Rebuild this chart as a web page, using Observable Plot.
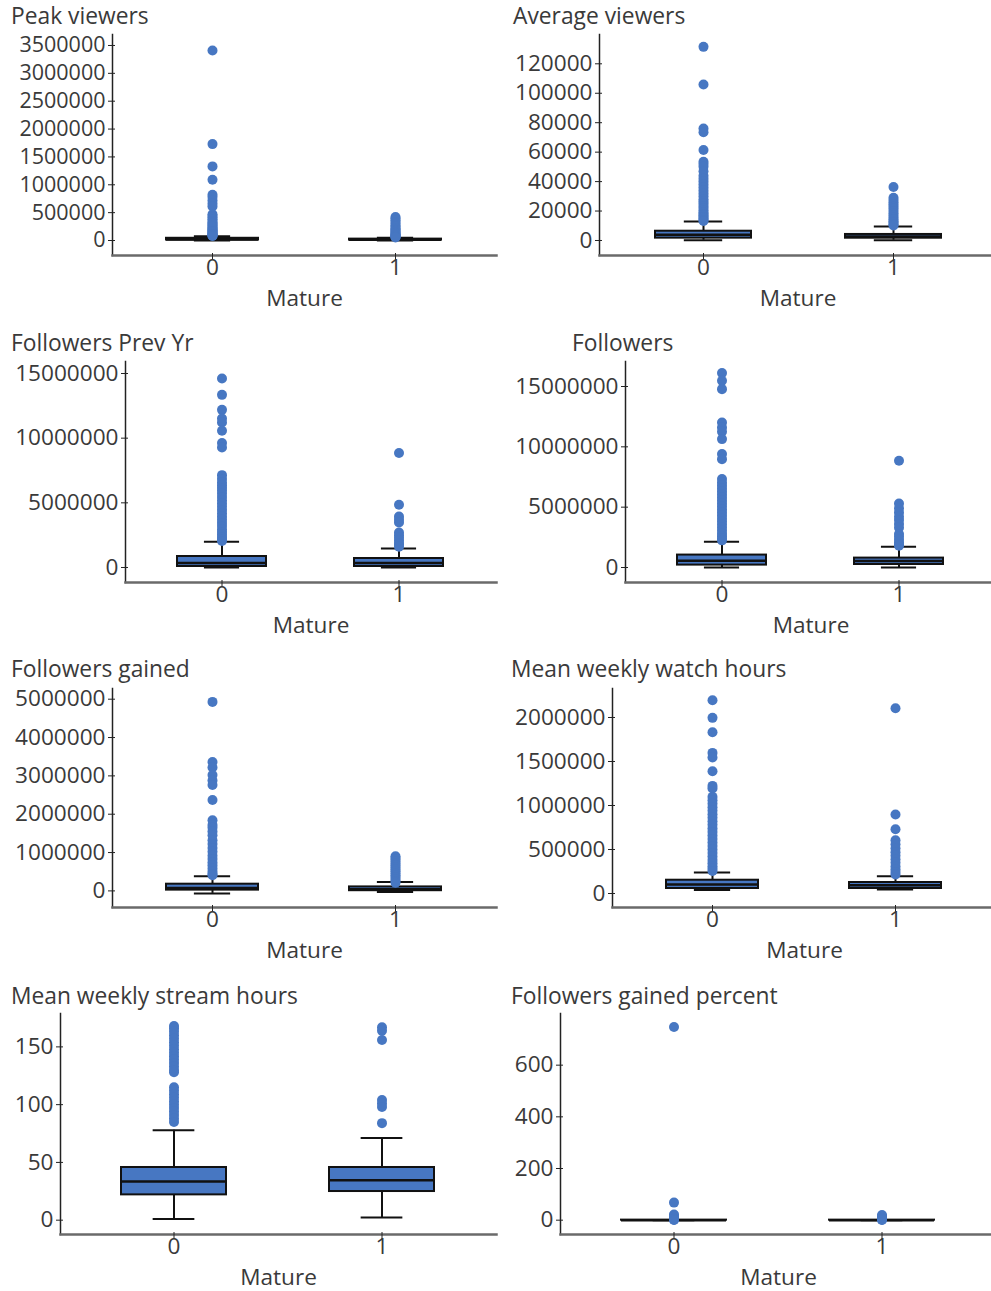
<!DOCTYPE html>
<html>
<head>
<meta charset="utf-8">
<script src="https://cdn.jsdelivr.net/npm/d3@7"></script>
<script src="https://cdn.jsdelivr.net/npm/@observablehq/plot@0.6"></script>
<style>
  body { margin: 0; background: #fff; overflow: hidden; }
  #grid { position: relative; width: 991px; height: 1291px; overflow: hidden; font-family: "Open Sans", sans-serif; color: #3a3a3a; }
  .title { position: absolute; font-size: 22.8px; line-height: 22px; white-space: nowrap; color: #3a3a3a; }
</style>
</head>
<body>
<div id="grid"></div>
<script>
// Mature flag categories on the x axis
const groups = ["0", "1"];
const xLabel = "Mature";

// Box statistics per group: [lower whisker, Q1, median, Q3, upper whisker]
const peakViewersBox = [[500, 9000, 17000, 40000, 78000], [800, 7000, 12000, 25000, 50000]];
const peakViewersOut0 = [3410000, 1730000, 1330000, 1090000, 820000, 780000, 720000, 660000, 610000, 470000, 440000, 410000, 380000, 350000, 320000, 300000, 280000, 260000, 240000, 220000, 200000, 185000, 170000, 155000, 140000, 128000, 116000, 105000, 96000, 88000, 82000];
const peakViewersOut1 = [420000, 395000, 365000, 330000, 300000, 270000, 245000, 220000, 200000, 180000, 160000, 140000, 125000, 110000, 98000, 88000, 78000, 70000, 62000, 55000];
const peakViewersTicks = [0, 500000, 1000000, 1500000, 2000000, 2500000, 3000000, 3500000];

const avgViewersBox = [[200, 1600, 3900, 6300, 12900], [200, 1550, 2700, 4100, 9500]];
const avgViewersOut0 = [131500, 106000, 76000, 73500, 61500, 53500, 52000, 50000, 47000, 44000, 42000, 40000, 38000, 36000, 34000, 32000, 30000, 28000, 26500, 25000, 23500, 22000, 20500, 19000, 18000, 17000, 16000, 15000, 14000, 13300];
const avgViewersOut1 = [36300, 29000, 27500, 26000, 24500, 23000, 21500, 20000, 18500, 17000, 15500, 14200, 13000, 12000, 11000, 10200];
const avgViewersTicks = [0, 20000, 40000, 60000, 80000, 100000, 120000];

const followersPrevBox = [[3000, 77000, 340000, 850000, 1990000], [3000, 77000, 340000, 696000, 1470000]];
const followersPrevOut0 = [14610000, 13350000, 12190000, 11520000, 11210000, 10570000, 9620000, 9280000, 7140000, 6850000, 6570000, 6350000, 6150000, 5930000, 5700000, 5450000, 5200000, 4950000, 4700000, 4450000, 4200000, 3950000, 3700000, 3450000, 3200000, 2950000, 2750000, 2550000, 2350000, 2200000, 2050000];
const followersPrevOut1 = [8850000, 4850000, 3940000, 3700000, 3480000, 2700000, 2500000, 2300000, 2100000, 1900000, 1750000, 1600000];
const followersPrevTicks = [0, 5000000, 10000000, 15000000];

const followersBox = [[5000, 199000, 555000, 1030000, 2130000], [5000, 249000, 530000, 779000, 1720000]];
const followersOut0 = [16110000, 15470000, 14780000, 12020000, 11600000, 11250000, 10640000, 9400000, 8980000, 7330000, 7050000, 6800000, 6550000, 6300000, 6050000, 5800000, 5550000, 5300000, 5050000, 4800000, 4550000, 4300000, 4050000, 3800000, 3550000, 3300000, 3050000, 2800000, 2600000, 2400000, 2250000];
const followersOut1 = [8840000, 5300000, 4900000, 4560000, 4200000, 3930000, 3600000, 3300000, 2770000, 2550000, 2300000, 2100000, 1900000, 1800000];
const followersTicks = [0, 5000000, 10000000, 15000000];

const gainedBox = [[-65000, 20000, 75000, 175000, 384000], [-26000, 5000, 40000, 104000, 235000]];
const gainedOut0 = [4930000, 3360000, 3220000, 3020000, 2880000, 2760000, 2370000, 1840000, 1720000, 1650000, 1550000, 1450000, 1320000, 1220000, 1120000, 1020000, 920000, 830000, 740000, 660000, 580000, 500000, 440000, 411000];
const gainedOut1 = [905000, 860000, 810000, 760000, 710000, 660000, 610000, 560000, 510000, 460000, 410000, 360000, 310000, 260000, 215000];
const gainedTicks = [0, 1000000, 2000000, 3000000, 4000000, 5000000];

const watchBox = [[40000, 57000, 102000, 151000, 239000], [45000, 57000, 94000, 125000, 197000]];
const watchOut0 = [2197000, 1996000, 1833000, 1598000, 1545000, 1390000, 1223000, 1193000, 1098000, 1060000, 1020000, 980000, 940000, 900000, 860000, 820000, 780000, 740000, 700000, 660000, 620000, 580000, 540000, 500000, 460000, 420000, 380000, 345000, 310000, 280000, 255000];
const watchOut1 = [2106000, 898000, 731000, 606000, 560000, 515000, 470000, 430000, 390000, 350000, 310000, 275000, 245000, 215000];
const watchTicks = [0, 500000, 1000000, 1500000, 2000000];

const streamBox = [[1.1, 21.9, 33.5, 45.6, 77.9], [2.3, 24.8, 34.6, 45.6, 71.2]];
const streamOut0 = [168, 166, 163, 160, 157, 154, 151, 148, 145, 142, 139, 136, 133, 130, 128, 115, 112, 109, 106, 103, 100, 97, 94, 91, 88, 85];
const streamOut1 = [167, 164, 156, 104, 101, 98, 84];
const streamTicks = [0, 50, 100, 150];

const gainedPctBox = [[0, 0.05, 0.12, 0.27, 0.6], [0, 0.05, 0.1, 0.22, 0.5]];
const gainedPctOut0 = [748, 68, 22, 16, 11, 7, 4, 2, 1];
const gainedPctOut1 = [20, 15, 11, 7, 4, 2, 1];
const gainedPctTicks = [0, 200, 400, 600];

const panels = [
  {title: "Peak viewers", box: peakViewersBox, out: [peakViewersOut0, peakViewersOut1], ticks: peakViewersTicks},
  {title: "Average viewers", box: avgViewersBox, out: [avgViewersOut0, avgViewersOut1], ticks: avgViewersTicks},
  {title: "Followers Prev Yr", box: followersPrevBox, out: [followersPrevOut0, followersPrevOut1], ticks: followersPrevTicks},
  {title: "Followers", box: followersBox, out: [followersOut0, followersOut1], ticks: followersTicks},
  {title: "Followers gained", box: gainedBox, out: [gainedOut0, gainedOut1], ticks: gainedTicks},
  {title: "Mean weekly watch hours", box: watchBox, out: [watchOut0, watchOut1], ticks: watchTicks},
  {title: "Mean weekly stream hours", box: streamBox, out: [streamOut0, streamOut1], ticks: streamTicks},
  {title: "Followers gained percent", box: gainedPctBox, out: [gainedPctOut0, gainedPctOut1], ticks: gainedPctTicks}
];

// Grid placement of each panel (pixels), the y extent it shows and its tick label size
const layout = [
  {left: 0,   frameLeft: 112, frameTop: 34,     frameBottom: 255,    yDomain: [-269000, 3697000],   titleX: 11,  titleBase: 25,    tickFont: 21.5},
  {left: 500, frameLeft: 599, frameTop: 34,     frameBottom: 255,    yDomain: [-10190, 139900],     titleX: 513, titleBase: 25,    tickFont: 22.6},
  {left: 0,   frameLeft: 125, frameTop: 360.7,  frameBottom: 581.7,  yDomain: [-1160000, 15928000], titleX: 11,  titleBase: 352,   tickFont: 22.6},
  {left: 500, frameLeft: 625, frameTop: 360.7,  frameBottom: 581.7,  yDomain: [-1243000, 17072000], titleX: 572, titleBase: 352,   tickFont: 22.6},
  {left: 0,   frameLeft: 112, frameTop: 688.3,  frameBottom: 907.3,  yDomain: [-433000, 5279000],   titleX: 11,  titleBase: 677.5, tickFont: 22.6},
  {left: 500, frameLeft: 612, frameTop: 688.3,  frameBottom: 907.3,  yDomain: [-159000, 2329500],   titleX: 511, titleBase: 678,   tickFont: 22.6},
  {left: 0,   frameLeft: 60,  frameTop: 1013.3, frameBottom: 1234.3, yDomain: [-12.4, 178.9],       titleX: 11,  titleBase: 1005,  tickFont: 22.6},
  {left: 500, frameLeft: 560, frameTop: 1013.3, frameBottom: 1234.3, yDomain: [-55.4, 800],         titleX: 511, titleBase: 1005,  tickFont: 22.6}
];

const BLUE = "#4777c2";
const INK = "#111";
const PAD_INNER = 0.495, PAD_OUTER = 0.291;
const grid = document.getElementById("grid");

panels.forEach((p, i) => {
  const L = layout[i];
  const right = L.left === 0 ? 496 : 996;
  const top = L.frameTop - 20;
  const width = right - L.left;
  const height = (L.frameBottom - L.frameTop) + 20 + 60;
  const marginLeft = L.frameLeft - L.left;
  const step = (width - marginLeft) / (groups.length - PAD_INNER + 2 * PAD_OUTER);
  const capInset = step * (1 - PAD_INNER) * 0.3;

  const stats = groups.map((g, j) => {
    const [lo, q1, med, q3, hi] = p.box[j];
    return {group: g, lo, q1, med, q3, hi};
  });
  const outliers = groups.flatMap((g, j) => p.out[j].map((v) => ({group: g, value: v})));

  const chart = Plot.plot({
    width, height,
    marginLeft, marginRight: 0, marginTop: 20, marginBottom: 60,
    style: {fontFamily: "'Open Sans', sans-serif", fontSize: "22.6px", color: "#3a3a3a", background: "transparent", overflow: "visible"},
    x: {type: "band", domain: groups, paddingInner: PAD_INNER, paddingOuter: PAD_OUTER},
    y: {domain: L.yDomain},
    marks: [
      Plot.frame({anchor: "left", stroke: "#222", strokeWidth: 1.5}),
      Plot.frame({anchor: "bottom", stroke: "#6a6a6a", strokeWidth: 2.5}),
      Plot.axisY({ticks: p.ticks, tickFormat: d3.format("d"), label: null, tickSize: 7, tickPadding: 3, dx: 3, stroke: "#222", fontSize: L.tickFont}),
      Plot.axisX({label: null, tickSize: 7, tickPadding: -2, dy: -2, stroke: "#222"}),
      Plot.ruleX(stats, {x: "group", y1: "lo", y2: "hi", stroke: INK, strokeWidth: 2}),
      Plot.tickY(stats, {x: "group", y: "lo", stroke: INK, strokeWidth: 2, insetLeft: capInset, insetRight: capInset}),
      Plot.tickY(stats, {x: "group", y: "hi", stroke: INK, strokeWidth: 2, insetLeft: capInset, insetRight: capInset}),
      Plot.barY(stats, {x: "group", y1: "q1", y2: "q3", fill: BLUE, stroke: INK, strokeWidth: 2}),
      Plot.tickY(stats, {x: "group", y: "med", stroke: INK, strokeWidth: 2.5}),
      Plot.dot(outliers, {x: "group", y: "value", r: 5, fill: BLUE, stroke: "none"}),
      Plot.text([xLabel], {frameAnchor: "bottom", lineAnchor: "middle", dy: 43, fontSize: 22.6, fill: "#3a3a3a"})
    ]
  });
  chart.style.position = "absolute";
  chart.style.left = L.left + "px";
  chart.style.top = top + "px";
  grid.append(chart);

  const t = document.createElement("div");
  t.className = "title";
  t.textContent = p.title;
  t.style.left = L.titleX + "px";
  t.style.top = (L.titleBase - 19.7) + "px";
  grid.append(t);
});
</script>
</body>
</html>
